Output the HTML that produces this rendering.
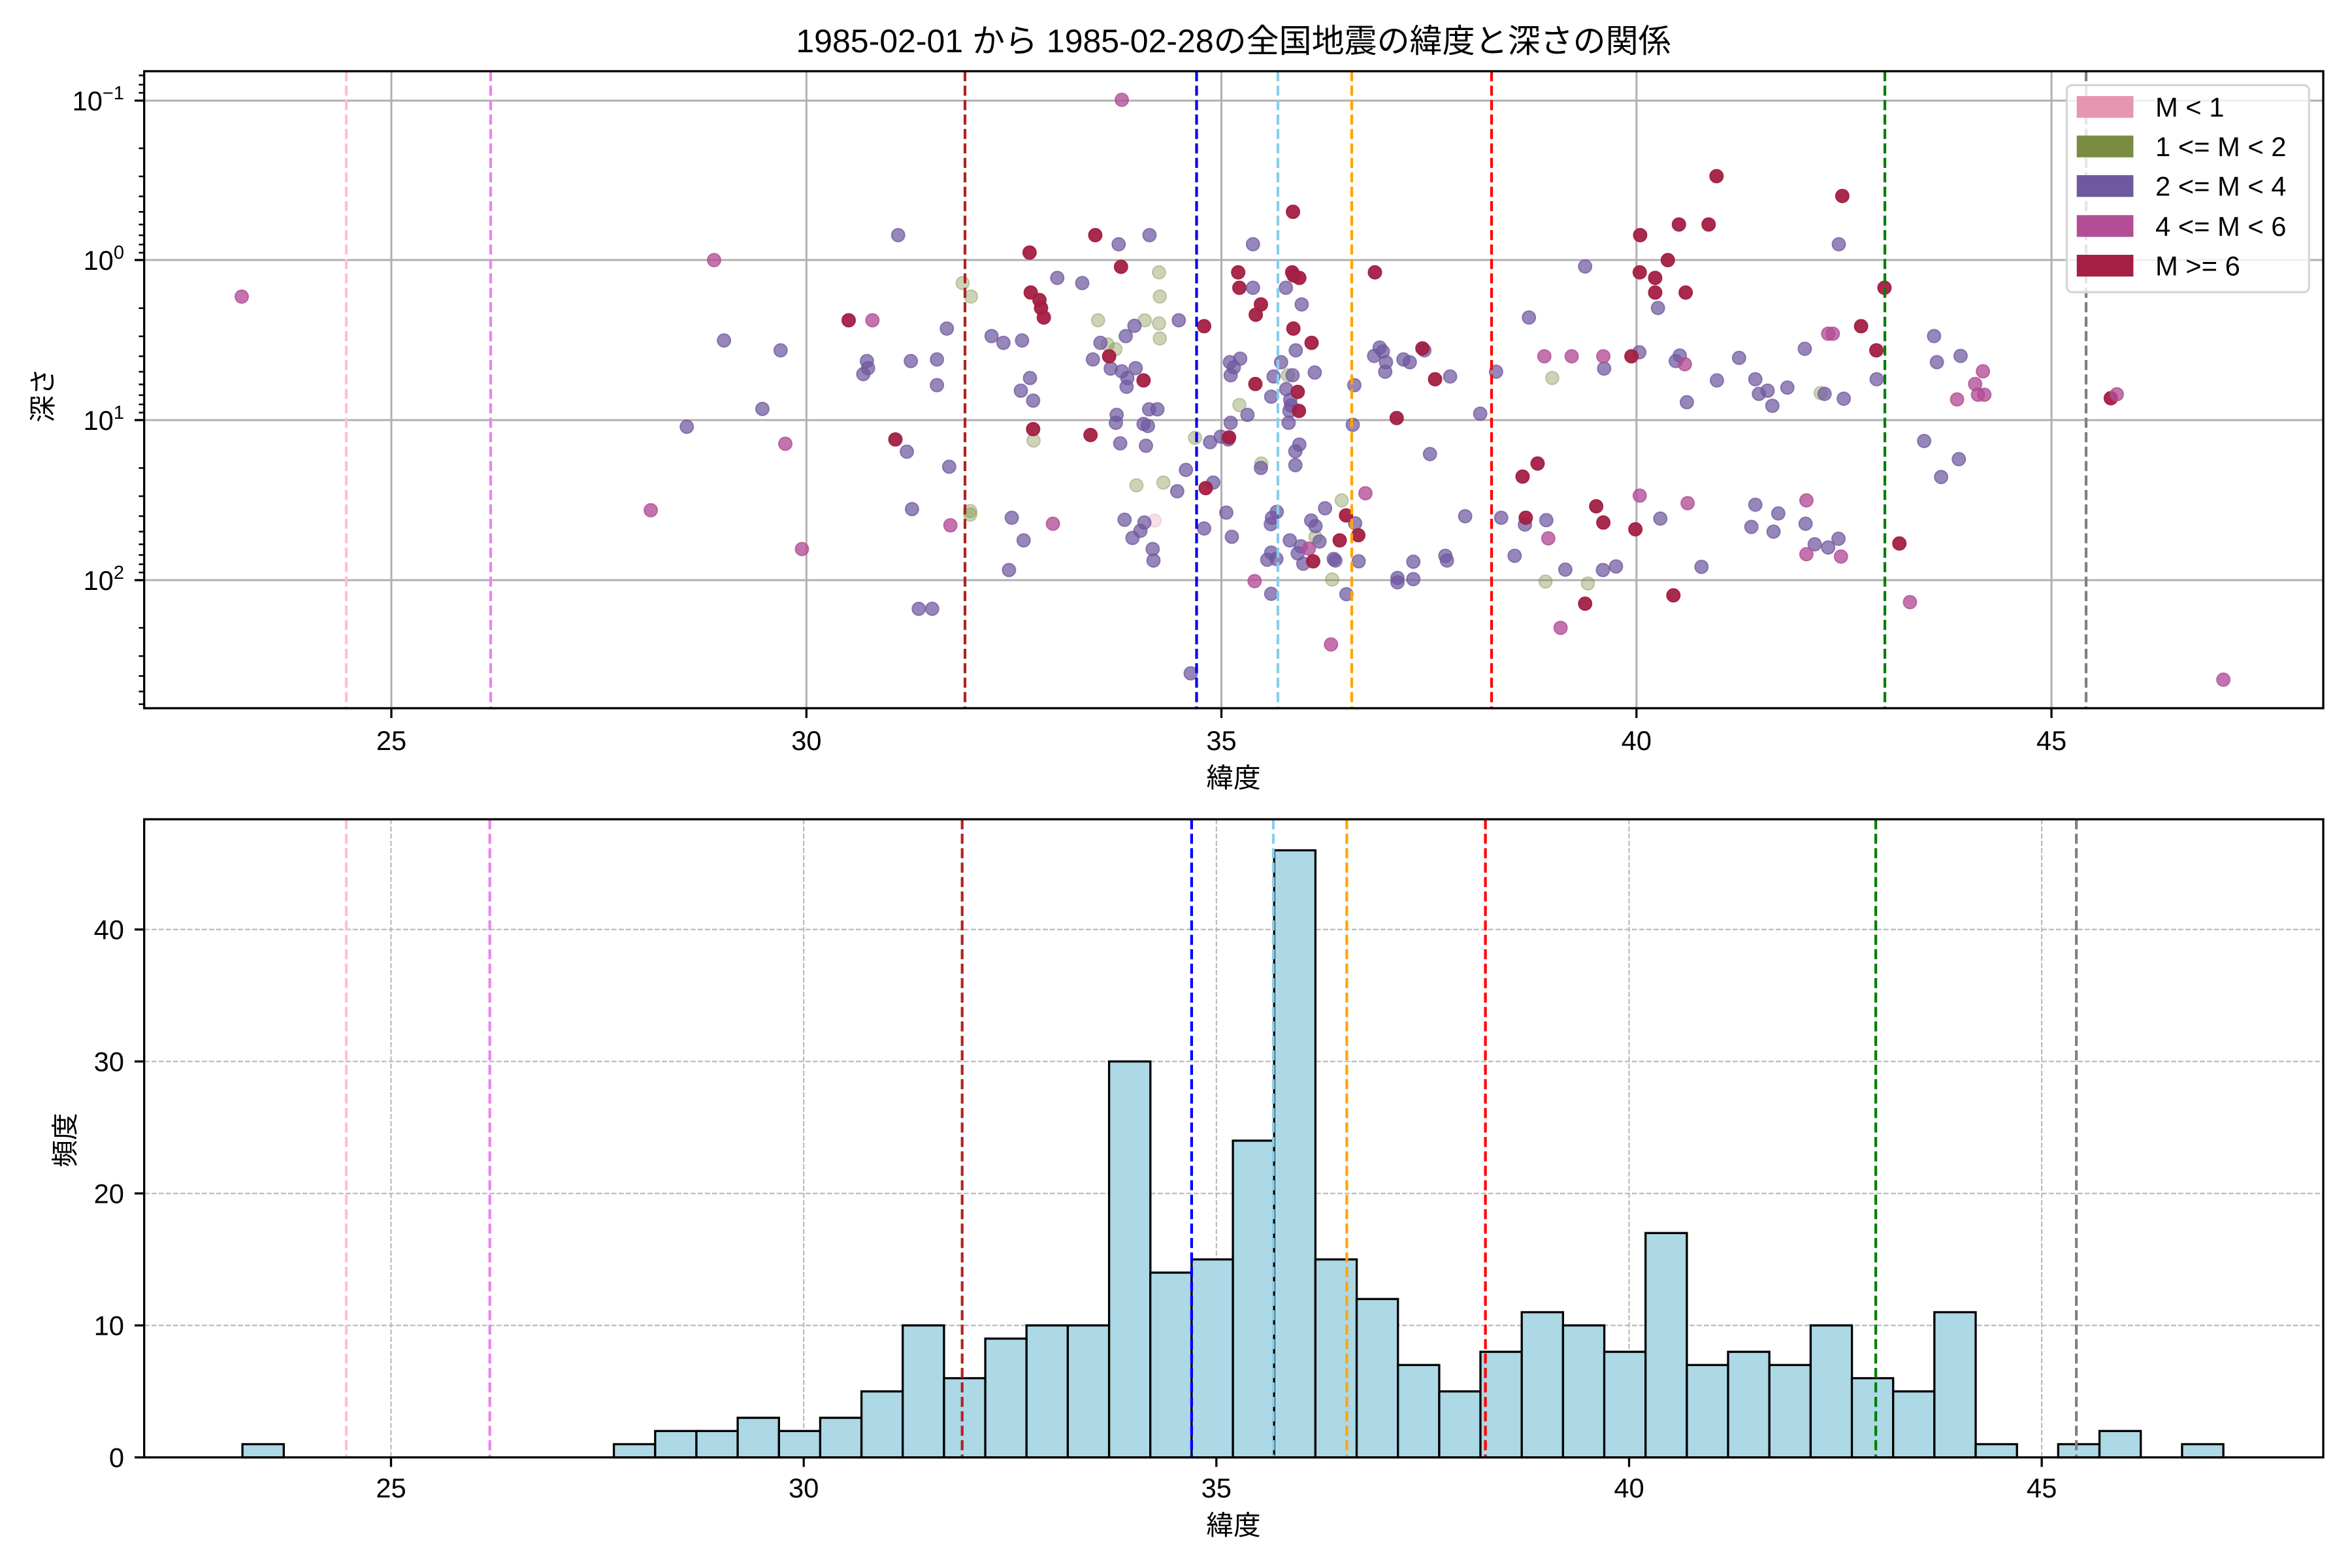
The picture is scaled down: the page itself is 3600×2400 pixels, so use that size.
<!DOCTYPE html>
<html><head><meta charset="utf-8"><style>
html,body{margin:0;padding:0;background:#fff}
svg{display:block}
text{font-family:"Liberation Sans","Noto Sans CJK JP",sans-serif;fill:#000}
.r{fill:#a31f43;stroke:#a31f43;fill-opacity:.95;stroke-opacity:.95}
.p{fill:#6f58a0;stroke:#6f58a0;fill-opacity:.72;stroke-opacity:.72}
.m{fill:#b24d96;stroke:#b24d96;fill-opacity:.78;stroke-opacity:.78}
.g{fill:#7a8b42;stroke:#7a8b42;fill-opacity:.38;stroke-opacity:.38}
.k{fill:#e596b0;stroke:#e596b0;fill-opacity:.3;stroke-opacity:.3}
</style></head><body>
<svg xmlns="http://www.w3.org/2000/svg" width="3600" height="2400" viewBox="0 0 3600 2400">
<rect width="3600" height="2400" fill="#fff"/>
<!-- title -->
<text x="1888" y="80" font-size="50" text-anchor="middle">1985-02-01 から 1985-02-28の全国地震の緯度と深さの関係</text>

<!-- ===== TOP PLOT ===== -->
<g stroke="#b0b0b0" stroke-width="3">
<line x1="599" y1="109" x2="599" y2="1084"/><line x1="1234.3" y1="109" x2="1234.3" y2="1084"/>
<line x1="1869.5" y1="109" x2="1869.5" y2="1084"/><line x1="2504.8" y1="109" x2="2504.8" y2="1084"/>
<line x1="3140" y1="109" x2="3140" y2="1084"/>
<line x1="221" y1="154" x2="3556" y2="154"/><line x1="221" y1="398" x2="3556" y2="398"/>
<line x1="221" y1="643" x2="3556" y2="643"/><line x1="221" y1="888" x2="3556" y2="888"/>
</g>

<!-- scatter zoom8 region -->
<g transform="translate(950,120) scale(0.60588)" stroke-width="3.3">
<g class="k"><circle cx="1349" cy="1117" r="16.5"/></g>
<g class="g">
<circle cx="864" cy="517" r="16.5"/><circle cx="885" cy="551" r="16.5"/><circle cx="1360" cy="490" r="16.5"/><circle cx="1362" cy="551" r="16.5"/><circle cx="1206" cy="611" r="16.5"/><circle cx="1324" cy="611" r="16.5"/><circle cx="1360" cy="619" r="16.5"/><circle cx="1362" cy="657" r="16.5"/><circle cx="1230" cy="672" r="16.5"/><circle cx="1250" cy="684" r="16.5"/><circle cx="1451" cy="908" r="16.5"/><circle cx="1303" cy="1028" r="16.5"/><circle cx="1371" cy="1021" r="16.5"/><circle cx="883" cy="1093" r="16.5"/><circle cx="883" cy="1102" r="16.5"/><circle cx="1043" cy="915" r="16.5"/><circle cx="1563" cy="825" r="16.5"/>
</g>
<g class="p">
<circle cx="701" cy="396" r="16.5"/><circle cx="1258" cy="419" r="16.5"/><circle cx="1336" cy="396" r="16.5"/><circle cx="1103" cy="504" r="16.5"/><circle cx="1166" cy="517" r="16.5"/><circle cx="824" cy="632" r="16.5"/><circle cx="1410" cy="611" r="16.5"/><circle cx="1298" cy="625" r="16.5"/><circle cx="1276" cy="651" r="16.5"/><circle cx="937" cy="651" r="16.5"/><circle cx="967" cy="668" r="16.5"/><circle cx="1014" cy="662" r="16.5"/><circle cx="1212" cy="668" r="16.5"/><circle cx="261" cy="662" r="16.5"/><circle cx="404" cy="687" r="16.5"/><circle cx="622" cy="714" r="16.5"/><circle cx="625" cy="732" r="16.5"/><circle cx="613" cy="747" r="16.5"/><circle cx="733" cy="714" r="16.5"/><circle cx="799" cy="710" r="16.5"/><circle cx="1193" cy="710" r="16.5"/><circle cx="1238" cy="733" r="16.5"/><circle cx="1266" cy="740" r="16.5"/><circle cx="1301" cy="732" r="16.5"/><circle cx="1280" cy="757" r="16.5"/><circle cx="1278" cy="779" r="16.5"/><circle cx="1034" cy="757" r="16.5"/><circle cx="1011" cy="789" r="16.5"/><circle cx="1042" cy="814" r="16.5"/><circle cx="799" cy="775" r="16.5"/><circle cx="358" cy="835" r="16.5"/><circle cx="167" cy="880" r="16.5"/><circle cx="1253" cy="850" r="16.5"/><circle cx="1251" cy="870" r="16.5"/><circle cx="1335" cy="836" r="16.5"/><circle cx="1356" cy="836" r="16.5"/><circle cx="1321" cy="873" r="16.5"/><circle cx="1332" cy="878" r="16.5"/><circle cx="1262" cy="922" r="16.5"/><circle cx="1327" cy="928" r="16.5"/><circle cx="723" cy="943" r="16.5"/><circle cx="830" cy="981" r="16.5"/><circle cx="1428" cy="989" r="16.5"/><circle cx="1497" cy="1021" r="16.5"/><circle cx="1406" cy="1043" r="16.5"/><circle cx="736" cy="1088" r="16.5"/><circle cx="988" cy="1110" r="16.5"/><circle cx="1273" cy="1115" r="16.5"/><circle cx="1323" cy="1122" r="16.5"/><circle cx="1313" cy="1143" r="16.5"/><circle cx="1293" cy="1161" r="16.5"/><circle cx="1344" cy="1189" r="16.5"/><circle cx="1346" cy="1218" r="16.5"/><circle cx="1018" cy="1167" r="16.5"/><circle cx="981" cy="1242" r="16.5"/><circle cx="753" cy="1340" r="16.5"/><circle cx="787" cy="1340" r="16.5"/><circle cx="1440" cy="1503" r="16.5"/><circle cx="1489" cy="919" r="16.5"/><circle cx="1516" cy="905" r="16.5"/><circle cx="1535" cy="912" r="16.5"/><circle cx="1530" cy="1097" r="16.5"/><circle cx="1474" cy="1137" r="16.5"/><circle cx="1544" cy="1158" r="16.5"/><circle cx="1539" cy="717" r="16.5"/><circle cx="1549" cy="730" r="16.5"/><circle cx="1541" cy="750" r="16.5"/><circle cx="1541" cy="870" r="16.5"/><circle cx="1565" cy="708" r="16.5"/>
</g>
<g class="m">
<circle cx="1266" cy="54" r="16.5"/><circle cx="236" cy="459" r="16.5"/><circle cx="636" cy="611" r="16.5"/><circle cx="416" cy="923" r="16.5"/><circle cx="76" cy="1091" r="16.5"/><circle cx="833" cy="1129" r="16.5"/><circle cx="1092" cy="1125" r="16.5"/><circle cx="458" cy="1189" r="16.5"/>
</g>
<g class="r">
<circle cx="1199" cy="396" r="16.5"/><circle cx="1033" cy="440" r="16.5"/><circle cx="1264" cy="476" r="16.5"/><circle cx="1036" cy="541" r="16.5"/><circle cx="1058" cy="560" r="16.5"/><circle cx="1062" cy="580" r="16.5"/><circle cx="1069" cy="604" r="16.5"/><circle cx="576" cy="611" r="16.5"/><circle cx="1234" cy="702" r="16.5"/><circle cx="1321" cy="763" r="16.5"/><circle cx="1474" cy="626" r="16.5"/><circle cx="1042" cy="886" r="16.5"/><circle cx="694" cy="912" r="16.5"/><circle cx="1187" cy="901" r="16.5"/><circle cx="1478" cy="1035" r="16.5"/><circle cx="1560" cy="490" r="16.5"/><circle cx="1563" cy="529" r="16.5"/><circle cx="1537" cy="907" r="16.5"/>
</g>
</g>

<!-- scatter zoom9 region -->
<g transform="translate(1850,120) scale(0.60588)" stroke-width="3.3">
<g class="g">
<circle cx="200" cy="750" r="16.5"/><circle cx="133" cy="973" r="16.5"/><circle cx="336" cy="1066" r="16.5"/><circle cx="270" cy="1158" r="16.5"/><circle cx="312" cy="1266" r="16.5"/><circle cx="868" cy="757" r="16.5"/><circle cx="851" cy="1271" r="16.5"/><circle cx="958" cy="1276" r="16.5"/><circle cx="1546" cy="795" r="16.5"/>
</g>
<g class="p">
<circle cx="112" cy="419" r="16.5"/><circle cx="112" cy="529" r="16.5"/><circle cx="195" cy="529" r="16.5"/><circle cx="235" cy="571" r="16.5"/><circle cx="951" cy="475" r="16.5"/><circle cx="809" cy="604" r="16.5"/><circle cx="1135" cy="580" r="16.5"/><circle cx="220" cy="687" r="16.5"/><circle cx="183" cy="717" r="16.5"/><circle cx="164" cy="753" r="16.5"/><circle cx="212" cy="750" r="16.5"/><circle cx="196" cy="785" r="16.5"/><circle cx="158" cy="804" r="16.5"/><circle cx="206" cy="812" r="16.5"/><circle cx="208" cy="826" r="16.5"/><circle cx="204" cy="840" r="16.5"/><circle cx="202" cy="870" r="16.5"/><circle cx="98" cy="850" r="16.5"/><circle cx="268" cy="743" r="16.5"/><circle cx="368" cy="775" r="16.5"/><circle cx="432" cy="680" r="16.5"/><circle cx="440" cy="690" r="16.5"/><circle cx="418" cy="701" r="16.5"/><circle cx="448" cy="717" r="16.5"/><circle cx="446" cy="741" r="16.5"/><circle cx="492" cy="710" r="16.5"/><circle cx="508" cy="717" r="16.5"/><circle cx="545" cy="687" r="16.5"/><circle cx="610" cy="753" r="16.5"/><circle cx="686" cy="847" r="16.5"/><circle cx="364" cy="875" r="16.5"/><circle cx="726" cy="741" r="16.5"/><circle cx="999" cy="733" r="16.5"/><circle cx="1088" cy="692" r="16.5"/><circle cx="1190" cy="700" r="16.5"/><circle cx="1180" cy="714" r="16.5"/><circle cx="1284" cy="763" r="16.5"/><circle cx="1340" cy="706" r="16.5"/><circle cx="1381" cy="760" r="16.5"/><circle cx="1412" cy="789" r="16.5"/><circle cx="1390" cy="797" r="16.5"/><circle cx="1462" cy="781" r="16.5"/><circle cx="1424" cy="827" r="16.5"/><circle cx="1208" cy="818" r="16.5"/><circle cx="1506" cy="683" r="16.5"/><circle cx="1556" cy="797" r="16.5"/><circle cx="229" cy="925" r="16.5"/><circle cx="219" cy="942" r="16.5"/><circle cx="219" cy="977" r="16.5"/><circle cx="559" cy="949" r="16.5"/><circle cx="132" cy="984" r="16.5"/><circle cx="172" cy="1095" r="16.5"/><circle cx="160" cy="1110" r="16.5"/><circle cx="157" cy="1126" r="16.5"/><circle cx="205" cy="1167" r="16.5"/><circle cx="259" cy="1117" r="16.5"/><circle cx="270" cy="1131" r="16.5"/><circle cx="294" cy="1086" r="16.5"/><circle cx="280" cy="1170" r="16.5"/><circle cx="233" cy="1182" r="16.5"/><circle cx="225" cy="1200" r="16.5"/><circle cx="239" cy="1226" r="16.5"/><circle cx="158" cy="1198" r="16.5"/><circle cx="148" cy="1216" r="16.5"/><circle cx="171" cy="1214" r="16.5"/><circle cx="316" cy="1214" r="16.5"/><circle cx="320" cy="1218" r="16.5"/><circle cx="370" cy="1124" r="16.5"/><circle cx="379" cy="1220" r="16.5"/><circle cx="477" cy="1262" r="16.5"/><circle cx="477" cy="1273" r="16.5"/><circle cx="517" cy="1265" r="16.5"/><circle cx="517" cy="1221" r="16.5"/><circle cx="598" cy="1206" r="16.5"/><circle cx="602" cy="1218" r="16.5"/><circle cx="648" cy="1106" r="16.5"/><circle cx="739" cy="1110" r="16.5"/><circle cx="799" cy="1127" r="16.5"/><circle cx="853" cy="1116" r="16.5"/><circle cx="773" cy="1206" r="16.5"/><circle cx="901" cy="1241" r="16.5"/><circle cx="996" cy="1242" r="16.5"/><circle cx="1029" cy="1233" r="16.5"/><circle cx="1141" cy="1112" r="16.5"/><circle cx="1245" cy="1234" r="16.5"/><circle cx="1381" cy="1077" r="16.5"/><circle cx="1439" cy="1099" r="16.5"/><circle cx="1371" cy="1133" r="16.5"/><circle cx="1427" cy="1145" r="16.5"/><circle cx="1508" cy="1125" r="16.5"/><circle cx="1531" cy="1177" r="16.5"/><circle cx="1565" cy="1185" r="16.5"/><circle cx="158" cy="1302" r="16.5"/><circle cx="348" cy="1303" r="16.5"/>
</g>
<g class="m">
<circle cx="396" cy="1048" r="16.5"/><circle cx="848" cy="702" r="16.5"/><circle cx="917" cy="702" r="16.5"/><circle cx="997" cy="702" r="16.5"/><circle cx="1203" cy="722" r="16.5"/><circle cx="1089" cy="1054" r="16.5"/><circle cx="1210" cy="1073" r="16.5"/><circle cx="1510" cy="1066" r="16.5"/><circle cx="1510" cy="1202" r="16.5"/><circle cx="858" cy="1162" r="16.5"/><circle cx="253" cy="1188" r="16.5"/><circle cx="116" cy="1270" r="16.5"/><circle cx="889" cy="1388" r="16.5"/><circle cx="309" cy="1430" r="16.5"/><circle cx="1565" cy="645" r="16.5"/>
</g>
<g class="r">
<circle cx="213" cy="337" r="16.5"/><circle cx="1283" cy="247" r="16.5"/><circle cx="1188" cy="369" r="16.5"/><circle cx="1263" cy="369" r="16.5"/><circle cx="1090" cy="396" r="16.5"/><circle cx="1160" cy="459" r="16.5"/><circle cx="1089" cy="490" r="16.5"/><circle cx="1128" cy="504" r="16.5"/><circle cx="1128" cy="541" r="16.5"/><circle cx="1205" cy="541" r="16.5"/><circle cx="211" cy="490" r="16.5"/><circle cx="229" cy="504" r="16.5"/><circle cx="215" cy="498" r="16.5"/><circle cx="132" cy="571" r="16.5"/><circle cx="119" cy="597" r="16.5"/><circle cx="214" cy="632" r="16.5"/><circle cx="260" cy="668" r="16.5"/><circle cx="420" cy="490" r="16.5"/><circle cx="540" cy="682" r="16.5"/><circle cx="572" cy="760" r="16.5"/><circle cx="118" cy="772" r="16.5"/><circle cx="225" cy="792" r="16.5"/><circle cx="228" cy="840" r="16.5"/><circle cx="475" cy="858" r="16.5"/><circle cx="831" cy="973" r="16.5"/><circle cx="793" cy="1006" r="16.5"/><circle cx="979" cy="1081" r="16.5"/><circle cx="997" cy="1122" r="16.5"/><circle cx="1078" cy="1139" r="16.5"/><circle cx="801" cy="1110" r="16.5"/><circle cx="347" cy="1104" r="16.5"/><circle cx="331" cy="1167" r="16.5"/><circle cx="378" cy="1154" r="16.5"/><circle cx="264" cy="1220" r="16.5"/><circle cx="951" cy="1327" r="16.5"/><circle cx="1174" cy="1306" r="16.5"/><circle cx="1068" cy="702" r="16.5"/>
</g>
</g>

<!-- scatter right region + far left -->
<g stroke-width="2">
<g class="m">
<circle cx="370" cy="454" r="10"/>
<circle cx="2805.3" cy="510.8" r="10"/><circle cx="3035.1" cy="568.3" r="10"/><circle cx="3023.2" cy="587.7" r="10"/><circle cx="2995.5" cy="611.4" r="10"/><circle cx="3027.5" cy="604.1" r="10"/><circle cx="3037.3" cy="604.1" r="10"/><circle cx="2817.8" cy="851.9" r="10"/><circle cx="2923.4" cy="921.6" r="10"/><circle cx="3403.1" cy="1040.3" r="10"/>
</g>
<g class="p">
<circle cx="2814.5" cy="373.9" r="10"/><circle cx="2960.3" cy="514.4" r="10"/><circle cx="3000.9" cy="544.7" r="10"/><circle cx="2964.6" cy="554.4" r="10"/><circle cx="2872.5" cy="580.5" r="10"/><circle cx="2822.1" cy="610.2" r="10"/><circle cx="2945.1" cy="675" r="10"/><circle cx="2998.2" cy="702.8" r="10"/><circle cx="2971.1" cy="730.1" r="10"/><circle cx="2814" cy="824.6" r="10"/>
</g>
<g class="r">
<circle cx="2819.9" cy="300" r="10"/><circle cx="2884.4" cy="440.5" r="10"/><circle cx="2848.6" cy="499.3" r="10"/><circle cx="2872" cy="536.2" r="10"/><circle cx="2907.2" cy="831.9" r="10"/><circle cx="3230.8" cy="609.5" r="10"/>
</g>
<g class="m"><circle cx="3240" cy="603.5" r="10"/></g>
</g>

<!-- top vertical dashed lines -->
<g stroke-width="4.2" stroke-dasharray="15.4,6.7" fill="none">
<line x1="530" y1="109" x2="530" y2="1084" stroke="#ffc0cb"/>
<line x1="751" y1="109" x2="751" y2="1084" stroke="#ee82ee"/>
<line x1="1477" y1="109" x2="1477" y2="1084" stroke="#b22222"/>
<line x1="1831.5" y1="109" x2="1831.5" y2="1084" stroke="#0000ff"/>
<line x1="1956" y1="109" x2="1956" y2="1084" stroke="#87ceeb"/>
<line x1="2069" y1="109" x2="2069" y2="1084" stroke="#ffa500"/>
<line x1="2283" y1="109" x2="2283" y2="1084" stroke="#ff0000"/>
<line x1="2885" y1="109" x2="2885" y2="1084" stroke="#008000"/>
<line x1="3193" y1="109" x2="3193" y2="1084" stroke="#808080"/>
</g>

<!-- legend -->
<rect x="3163.5" y="130.3" width="370.8" height="316.9" rx="8" fill="#fff" fill-opacity="0.8" stroke="#d6d6d6" stroke-width="3.3"/>
<rect x="3178.7" y="147" width="86.7" height="33.3" fill="#e596b0"/>
<rect x="3178.7" y="207.5" width="86.7" height="33.3" fill="#7a8b42"/>
<rect x="3178.7" y="268.1" width="86.7" height="33.3" fill="#6f58a0"/>
<rect x="3178.7" y="329.3" width="86.7" height="33.3" fill="#b24d96"/>
<rect x="3178.7" y="390" width="86.7" height="33.3" fill="#a31f43"/>
<g font-size="41.7">
<text x="3299" y="178.5">M &lt; 1</text>
<text x="3299" y="239">1 &lt;= M &lt; 2</text>
<text x="3299" y="299.6">2 &lt;= M &lt; 4</text>
<text x="3299" y="360.8">4 &lt;= M &lt; 6</text>
<text x="3299" y="421.4">M &gt;= 6</text>
</g>

<!-- top spines & ticks -->
<rect x="220.7" y="109" width="3335.3" height="975" fill="none" stroke="#000" stroke-width="3.3"/>
<g stroke="#000" stroke-width="3.3">
<line x1="599" y1="1084" x2="599" y2="1099"/><line x1="1234.3" y1="1084" x2="1234.3" y2="1099"/>
<line x1="1869.5" y1="1084" x2="1869.5" y2="1099"/><line x1="2504.8" y1="1084" x2="2504.8" y2="1099"/>
<line x1="3140" y1="1084" x2="3140" y2="1099"/>
<line x1="206" y1="154" x2="221" y2="154"/><line x1="206" y1="398" x2="221" y2="398"/>
<line x1="206" y1="643" x2="221" y2="643"/><line x1="206" y1="888" x2="221" y2="888"/>
</g>
<g stroke="#000" stroke-width="2.5">
<line x1="212.4" y1="115.4" x2="221" y2="115.4"/><line x1="212.4" y1="129.6" x2="221" y2="129.6"/><line x1="212.4" y1="142.1" x2="221" y2="142.1"/>
<line x1="212.4" y1="227" x2="221" y2="227"/><line x1="212.4" y1="270" x2="221" y2="270"/><line x1="212.4" y1="300.6" x2="221" y2="300.6"/><line x1="212.4" y1="324.3" x2="221" y2="324.3"/><line x1="212.4" y1="343.7" x2="221" y2="343.7"/><line x1="212.4" y1="360.1" x2="221" y2="360.1"/><line x1="212.4" y1="374.3" x2="221" y2="374.3"/><line x1="212.4" y1="386.8" x2="221" y2="386.8"/>
<line x1="212.4" y1="471.7" x2="221" y2="471.7"/><line x1="212.4" y1="514.8" x2="221" y2="514.8"/><line x1="212.4" y1="545.3" x2="221" y2="545.3"/><line x1="212.4" y1="569" x2="221" y2="569"/><line x1="212.4" y1="588.4" x2="221" y2="588.4"/><line x1="212.4" y1="604.8" x2="221" y2="604.8"/><line x1="212.4" y1="619" x2="221" y2="619"/><line x1="212.4" y1="631.5" x2="221" y2="631.5"/>
<line x1="212.4" y1="716.4" x2="221" y2="716.4"/><line x1="212.4" y1="759.5" x2="221" y2="759.5"/><line x1="212.4" y1="790" x2="221" y2="790"/><line x1="212.4" y1="813.7" x2="221" y2="813.7"/><line x1="212.4" y1="833.1" x2="221" y2="833.1"/><line x1="212.4" y1="849.5" x2="221" y2="849.5"/><line x1="212.4" y1="863.7" x2="221" y2="863.7"/><line x1="212.4" y1="876.2" x2="221" y2="876.2"/>
<line x1="212.4" y1="961" x2="221" y2="961"/><line x1="212.4" y1="1004.2" x2="221" y2="1004.2"/><line x1="212.4" y1="1034.7" x2="221" y2="1034.7"/><line x1="212.4" y1="1058.4" x2="221" y2="1058.4"/><line x1="212.4" y1="1077.8" x2="221" y2="1077.8"/>
</g>
<g font-size="41.7" text-anchor="middle">
<text x="599" y="1148">25</text><text x="1234.3" y="1148">30</text><text x="1869.5" y="1148">35</text><text x="2504.8" y="1148">40</text><text x="3140" y="1148">45</text>
<text x="1888" y="1205">緯度</text>
</g>
<g font-size="41.7" text-anchor="end">
<text x="190" y="169">10<tspan font-size="29" dy="-17">−1</tspan></text>
<text x="190" y="413">10<tspan font-size="29" dy="-17">0</tspan></text>
<text x="190" y="658">10<tspan font-size="29" dy="-17">1</tspan></text>
<text x="190" y="903">10<tspan font-size="29" dy="-17">2</tspan></text>
</g>
<text transform="translate(80,605) rotate(-90)" font-size="41.7" text-anchor="middle">深さ</text>

<!-- ===== BOTTOM PLOT ===== -->
<g stroke="#b0b0b0" stroke-width="2.1" stroke-dasharray="7.7,3.3" stroke-opacity="0.9">
<line x1="598.5" y1="1254" x2="598.5" y2="2230.7"/><line x1="1230.2" y1="1254" x2="1230.2" y2="2230.7"/>
<line x1="1861.8" y1="1254" x2="1861.8" y2="2230.7"/><line x1="2493.5" y1="1254" x2="2493.5" y2="2230.7"/>
<line x1="3125.1" y1="1254" x2="3125.1" y2="2230.7"/>
<line x1="221" y1="2230.7" x2="3556" y2="2230.7"/><line x1="221" y1="2028.7" x2="3556" y2="2028.7"/>
<line x1="221" y1="1826.7" x2="3556" y2="1826.7"/><line x1="221" y1="1624.7" x2="3556" y2="1624.7"/>
<line x1="221" y1="1422.7" x2="3556" y2="1422.7"/>
</g>
<g fill="#add8e6" stroke="#000" stroke-width="3.3">
<rect x="371.1" y="2210.5" width="63.2" height="20.2"/>
<rect x="939.6" y="2210.5" width="63.2" height="20.2"/>
<rect x="1002.8" y="2190.3" width="63.2" height="40.4"/>
<rect x="1065.9" y="2190.3" width="63.2" height="40.4"/>
<rect x="1129.1" y="2170.1" width="63.2" height="60.6"/>
<rect x="1192.3" y="2190.3" width="63.2" height="40.4"/>
<rect x="1255.4" y="2170.1" width="63.2" height="60.6"/>
<rect x="1318.6" y="2129.7" width="63.2" height="101"/>
<rect x="1381.7" y="2028.7" width="63.2" height="202"/>
<rect x="1444.9" y="2109.5" width="63.2" height="121.2"/>
<rect x="1508.1" y="2048.9" width="63.2" height="181.8"/>
<rect x="1571.2" y="2028.7" width="63.2" height="202"/>
<rect x="1634.4" y="2028.7" width="63.2" height="202"/>
<rect x="1697.6" y="1624.7" width="63.2" height="606"/>
<rect x="1760.7" y="1947.9" width="63.2" height="282.8"/>
<rect x="1823.9" y="1927.7" width="63.2" height="303"/>
<rect x="1887.1" y="1745.9" width="63.2" height="484.8"/>
<rect x="1950.2" y="1301.5" width="63.2" height="929.2"/>
<rect x="2013.4" y="1927.7" width="63.2" height="303"/>
<rect x="2076.5" y="1988.3" width="63.2" height="242.4"/>
<rect x="2139.7" y="2089.3" width="63.2" height="141.4"/>
<rect x="2202.9" y="2129.7" width="63.2" height="101"/>
<rect x="2266" y="2069.1" width="63.2" height="161.6"/>
<rect x="2329.2" y="2008.5" width="63.2" height="222.2"/>
<rect x="2392.4" y="2028.7" width="63.2" height="202"/>
<rect x="2455.5" y="2069.1" width="63.2" height="161.6"/>
<rect x="2518.7" y="1887.3" width="63.2" height="343.4"/>
<rect x="2581.9" y="2089.3" width="63.2" height="141.4"/>
<rect x="2645" y="2069.1" width="63.2" height="161.6"/>
<rect x="2708.2" y="2089.3" width="63.2" height="141.4"/>
<rect x="2771.4" y="2028.7" width="63.2" height="202"/>
<rect x="2834.5" y="2109.5" width="63.2" height="121.2"/>
<rect x="2897.7" y="2129.7" width="63.2" height="101"/>
<rect x="2960.8" y="2008.5" width="63.2" height="222.2"/>
<rect x="3024" y="2210.5" width="63.2" height="20.2"/>
<rect x="3150.3" y="2210.5" width="63.2" height="20.2"/>
<rect x="3213.5" y="2190.3" width="63.2" height="40.4"/>
<rect x="3339.9" y="2210.5" width="63.2" height="20.2"/>
</g>
<g stroke-width="4.2" stroke-dasharray="15.4,6.7" fill="none">
<line x1="530" y1="1254" x2="530" y2="2230.7" stroke="#ffc0cb"/>
<line x1="749.7" y1="1254" x2="749.7" y2="2230.7" stroke="#ee82ee"/>
<line x1="1472.7" y1="1254" x2="1472.7" y2="2230.7" stroke="#b22222"/>
<line x1="1823.9" y1="1254" x2="1823.9" y2="2230.7" stroke="#0000ff"/>
<line x1="1949" y1="1254" x2="1949" y2="2230.7" stroke="#87ceeb"/>
<line x1="2061.4" y1="1254" x2="2061.4" y2="2230.7" stroke="#ffa500"/>
<line x1="2273.6" y1="1254" x2="2273.6" y2="2230.7" stroke="#ff0000"/>
<line x1="2871.1" y1="1254" x2="2871.1" y2="2230.7" stroke="#008000"/>
<line x1="3178.1" y1="1254" x2="3178.1" y2="2230.7" stroke="#808080"/>
</g>
<rect x="220.7" y="1254" width="3335.3" height="976.7" fill="none" stroke="#000" stroke-width="3.3"/>
<g stroke="#000" stroke-width="3.3">
<line x1="598.5" y1="2230.7" x2="598.5" y2="2245.3"/><line x1="1230.2" y1="2230.7" x2="1230.2" y2="2245.3"/>
<line x1="1861.8" y1="2230.7" x2="1861.8" y2="2245.3"/><line x1="2493.5" y1="2230.7" x2="2493.5" y2="2245.3"/>
<line x1="3125.1" y1="2230.7" x2="3125.1" y2="2245.3"/>
<line x1="206" y1="2230.7" x2="221" y2="2230.7"/><line x1="206" y1="2028.7" x2="221" y2="2028.7"/>
<line x1="206" y1="1826.7" x2="221" y2="1826.7"/><line x1="206" y1="1624.7" x2="221" y2="1624.7"/>
<line x1="206" y1="1422.7" x2="221" y2="1422.7"/>
</g>
<g font-size="41.7" text-anchor="middle">
<text x="598.5" y="2292">25</text><text x="1230.2" y="2292">30</text><text x="1861.8" y="2292">35</text><text x="2493.5" y="2292">40</text><text x="3125.1" y="2292">45</text>
<text x="1888" y="2349">緯度</text>
</g>
<g font-size="41.7" text-anchor="end">
<text x="190" y="2245.7">0</text><text x="190" y="2043.7">10</text><text x="190" y="1841.7">20</text><text x="190" y="1639.7">30</text><text x="190" y="1437.7">40</text>
</g>
<text transform="translate(114,1745) rotate(-90)" font-size="41.7" text-anchor="middle">頻度</text>
</svg>
</body></html>
